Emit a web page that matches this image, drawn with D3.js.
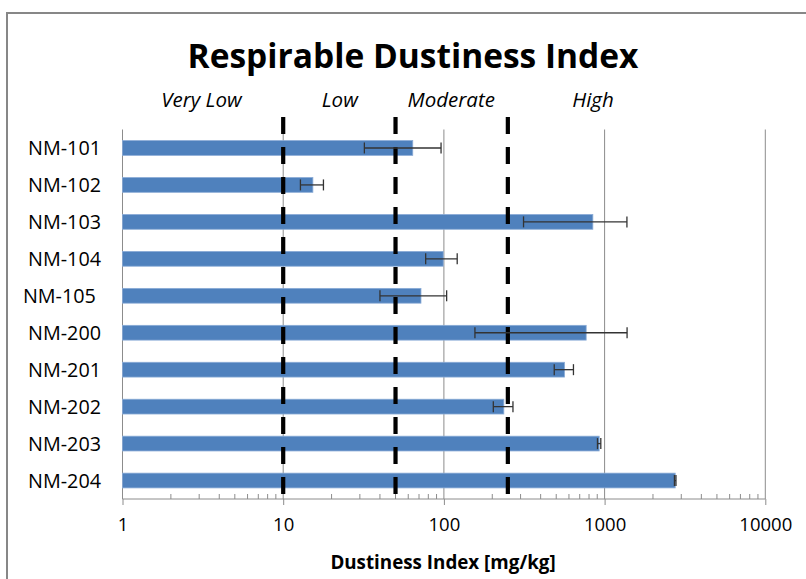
<!DOCTYPE html>
<html>
<head>
<meta charset="utf-8">
<script src="https://cdn.jsdelivr.net/npm/d3@7"></script>
<style>
  html, body { margin: 0; padding: 0; background: #fff; }
  svg { display: block; }
  text { font-family: "Open Sans", Lato, sans-serif; fill: #000; }
</style>
</head>
<body>
<svg id="chart" width="806" height="579"></svg>
<script>
// ---- data ----
const categories = ["NM-101", "NM-102", "NM-103", "NM-104", "NM-105 ", "NM-200", "NM-201", "NM-202", "NM-203", "NM-204"];
const values     = [64, 15.3, 845, 99, 72, 768, 563, 236, 925, 2750];
const errors     = [32, 2.5, 532, 22, 32, 612, 77, 33, 22, 30];
const xTicks     = [1, 10, 100, 1000, 10000];
const thresholds = [10, 50, 250];
const zoneLabels = ["Very Low", "Low", "Moderate", "High"];
const titleText  = "Respirable Dustiness Index";
const xAxisTitle = "Dustiness Index [mg/kg]";

// ---- layout ----
const svg = d3.select("#chart");
const pL = 122.5, pR = 765.3, pT = 129.5, pB = 499;
const FONT = "'Open Sans', Lato, sans-serif";

const x = d3.scaleLog().domain([1, 10000]).range([pL, pR]);
const y = d3.scaleBand().domain(categories).range([pT, pB]).paddingInner(0.6).paddingOuter(0.3);

// frame
svg.append("rect").attr("x", 7).attr("y", 13).attr("width", 830).attr("height", 620)
  .attr("fill", "none").attr("stroke", "#878787").attr("stroke-width", 2);

// gridlines (major, excluding 1)
svg.append("g").selectAll("line").data(xTicks.slice(1)).join("line")
  .attr("x1", d => x(d)).attr("x2", d => x(d))
  .attr("y1", pT).attr("y2", pB)
  .attr("stroke", "#8c8c8c").attr("stroke-width", 1);

// x axis: major ticks outside (down), minor ticks inside (up)
const minor = [];
for (let e = 0; e < 4; e++) for (let m = 2; m <= 9; m++) minor.push(m * Math.pow(10, e));
const ax = svg.append("g").attr("transform", `translate(0,${pB})`);
ax.call(d3.axisBottom(x).tickValues(xTicks).tickSize(6).tickPadding(13).tickFormat(d3.format("d")));
ax.select(".domain").attr("stroke", "#8c8c8c").attr("d", `M${pL},0H${pR}`);
ax.selectAll(".tick line").attr("stroke", "#8c8c8c");
ax.selectAll(".tick text").attr("font-size", 18.5).attr("fill", "#111").attr("font-family", FONT);
ax.append("g").selectAll("line").data(minor).join("line")
  .attr("x1", d => x(d)).attr("x2", d => x(d)).attr("y1", 0).attr("y2", -5)
  .attr("stroke", "#8c8c8c").attr("stroke-width", 1);

// y axis line
svg.append("line").attr("x1", pL).attr("x2", pL).attr("y1", pT).attr("y2", pB)
  .attr("stroke", "#8c8c8c").attr("stroke-width", 1);

// category labels
svg.append("g").selectAll("text").data(categories).join("text")
  .attr("x", 101).attr("y", d => y(d) + y.bandwidth() / 2)
  .attr("dy", "0.36em").attr("text-anchor", "end")
  .style("white-space", "pre")
  .attr("font-size", 19.8).attr("fill", "#1a1a1a")
  .text(d => d);

// bars
svg.append("g").selectAll("rect").data(values).join("rect")
  .attr("x", x(1)).attr("y", (d, i) => y(categories[i]))
  .attr("width", d => x(d) - x(1)).attr("height", y.bandwidth())
  .attr("fill", "#4f81bd").attr("stroke", "#8aabd6").attr("stroke-width", 0.8);

// threshold dashed lines
svg.append("g").selectAll("line").data(thresholds).join("line")
  .attr("x1", d => x(d)).attr("x2", d => x(d))
  .attr("y1", 117).attr("y2", 497)
  .attr("stroke", "#000").attr("stroke-width", 4.2).attr("stroke-dasharray", "17,13");

// error bars
const eb = svg.append("g").attr("stroke", "#333").attr("stroke-width", 1.3);
values.forEach((v, i) => {
  const cy = y(categories[i]) + y.bandwidth() / 2;
  const lo = x(v - errors[i]), hi = x(v + errors[i]);
  eb.append("line").attr("x1", lo).attr("x2", hi).attr("y1", cy).attr("y2", cy);
  eb.append("line").attr("x1", lo).attr("x2", lo).attr("y1", cy - 5.5).attr("y2", cy + 5.5);
  eb.append("line").attr("x1", hi).attr("x2", hi).attr("y1", cy - 5.5).attr("y2", cy + 5.5);
});

// zone labels (anchored on the log scale)
const zoneAnchors = [3.1, 22.5, 111, 847];
svg.append("g").selectAll("text").data(zoneLabels).join("text")
  .attr("x", (d, i) => x(zoneAnchors[i])).attr("y", 107)
  .attr("text-anchor", "middle").attr("font-style", "italic")
  .attr("font-size", 20.5).attr("fill", "#111")
  .text(d => d);

// title
svg.append("text").attr("x", 413).attr("y", 68).attr("text-anchor", "middle")
  .attr("font-weight", "bold").attr("font-size", 33.5).text(titleText);

// x axis title
svg.append("text").attr("x", 443).attr("y", 569).attr("text-anchor", "middle")
  .attr("font-weight", "bold").attr("font-size", 18.8).text(xAxisTitle);
</script>
</body>
</html>
